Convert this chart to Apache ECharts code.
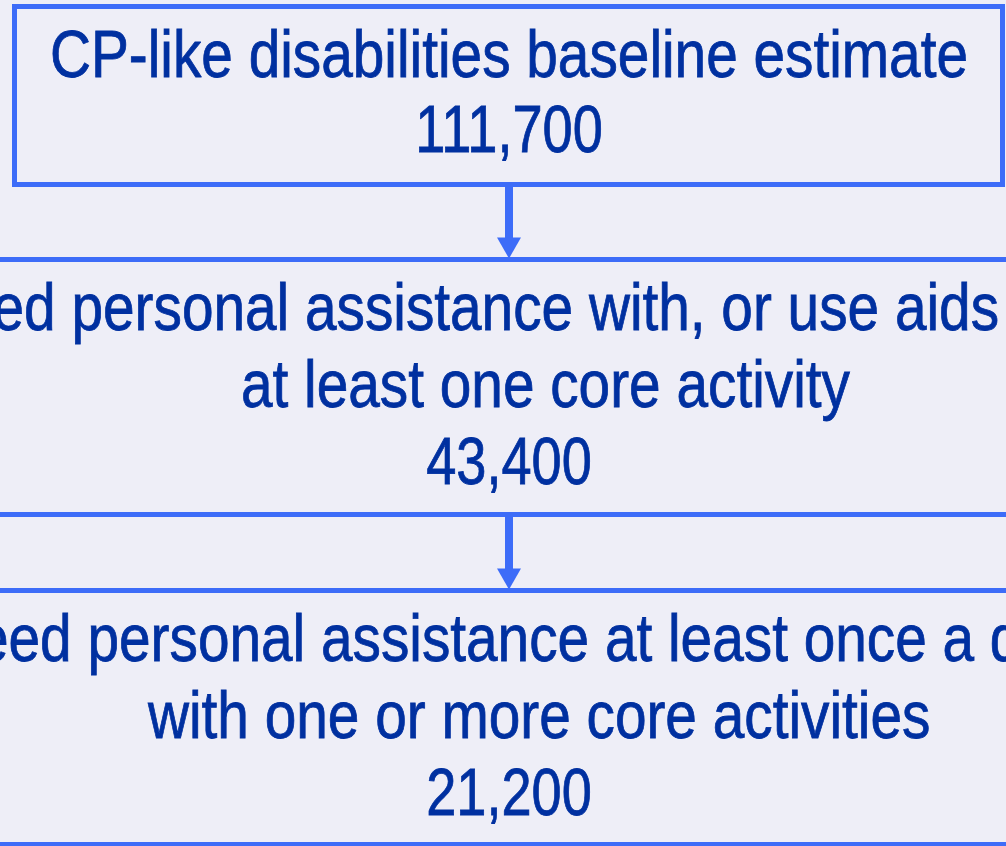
<!DOCTYPE html>
<html>
<head>
<meta charset="utf-8">
<title>CP-like disabilities</title>
<script src="https://cdn.jsdelivr.net/npm/echarts@6/dist/echarts.min.js"></script>
<style>
  html, body { margin: 0; padding: 0; background: #eeeef7; }
  #chart { width: 1006px; height: 846px; }
</style>
</head>
<body>
<div id="chart"></div>
<script>
// flow steps, top to bottom
const stepLabels = [
  ['CP-like disabilities baseline estimate'],
  ['Need personal assistance with, or use aids for,', 'at least one core activity'],
  ['Need personal assistance at least once a day', 'with one or more core activities']
];
const stepValues = [111700, 43400, 21200];

// no narrow font installed, so squeeze Liberation Sans like Arial Narrow
const FONT = '"Liberation Sans", Arial, sans-serif';
const LABEL_SQUEEZE = 0.86;
const VALUE_SQUEEZE = 0.82;
const TEXT_COLOR = '#0030a0';
const LINE_COLOR = '#3d6cf8';

// box geometry (px) and where each text line sits
const boxes = [
  { x: 14.5, y: 6.5, w: 988, h: 178 },
  { x: -20, y: 259.5, w: 1050, h: 255 },
  { x: -20, y: 590.5, w: 1050, h: 254 }
];
const lineAnchors = [
  [{ x: 509, align: 'center', base: 82 }],
  [{ x: -80, align: 'left', base: 335 }, { x: 241, align: 'left', base: 412 }],
  [{ x: -64, align: 'left', base: 666 }, { x: 148, align: 'left', base: 743 }]
];
const valueBase = [157, 489, 820];
const CENTER_X = 509;

const chart = echarts.init(document.getElementById('chart'), null, { renderer: 'canvas' });

const elements = [];

function textEl(str, x, baseline, align, squeeze) {
  return {
    type: 'text',
    x: x,
    y: baseline - 23,
    scaleX: squeeze,
    silent: true,
    style: {
      text: str,
      font: '66px ' + FONT,
      fill: TEXT_COLOR,
      stroke: TEXT_COLOR,
      lineWidth: 0.8,
      align: align,
      verticalAlign: 'middle'
    }
  };
}

stepLabels.forEach(function (lines, i) {
  const b = boxes[i];
  elements.push({
    type: 'rect',
    shape: { x: b.x, y: b.y, width: b.w, height: b.h },
    style: { fill: 'none', stroke: LINE_COLOR, lineWidth: 5 }
  });
  lines.forEach(function (line, j) {
    const a = lineAnchors[i][j];
    elements.push(textEl(line, a.x, a.base, a.align, LABEL_SQUEEZE));
  });
  elements.push(textEl(stepValues[i].toLocaleString('en-US'), CENTER_X, valueBase[i], 'center', VALUE_SQUEEZE));

  // arrow down to the next box
  if (i < stepLabels.length - 1) {
    const top = b.y + b.h + 2.5;
    const tip = boxes[i + 1].y - 1;
    elements.push({
      type: 'line',
      shape: { x1: CENTER_X, y1: top, x2: CENTER_X, y2: tip - 18 },
      style: { stroke: LINE_COLOR, lineWidth: 8 }
    });
    elements.push({
      type: 'polygon',
      shape: { points: [[CENTER_X - 12, tip - 21], [CENTER_X + 12, tip - 21], [CENTER_X, tip]] },
      style: { fill: LINE_COLOR }
    });
  }
});

chart.setOption({
  backgroundColor: '#eeeef7',
  animation: false,
  graphic: { elements: elements }
});
</script>
</body>
</html>
